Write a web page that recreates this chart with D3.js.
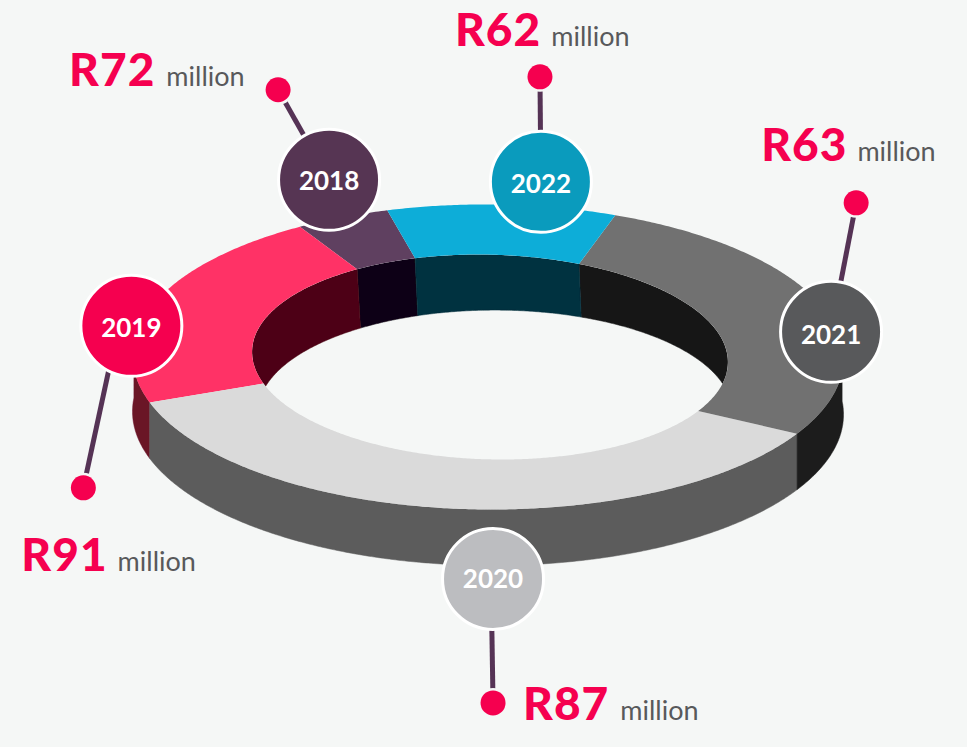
<!DOCTYPE html>
<html>
<head>
<meta charset="utf-8">
<script src="https://cdn.jsdelivr.net/npm/d3@7"></script>
<style>
  html, body { margin: 0; padding: 0; background: #f5f7f6; }
  svg { display: block; font-family: Lato, sans-serif; }
</style>
</head>
<body>
<div id="chart"></div>
<script>
const years = ['2018', '2019', '2020', '2021', '2022'];
const values = [72, 91, 87, 63, 62];
// share of the ring each slice takes in the picture (not proportional to values),
// read separately at the outer and inner edge because the ring is in perspective
const outerShare = [4.3, 21.1, 36.8, 27.4, 10.4];
const innerShare = [4.33, 20.53, 37, 26.94, 11.2];

const topColors = ['#5e4061', '#ff3366', '#dadada', '#717171', '#0fadd8'];
const outerWallColors = ['#3a2038', '#6b1428', '#5c5c5c', '#1d1d1d', '#01303f'];
const innerWallColors = ['#0d0414', '#4d0014', '#333333', '#181818', '#01303f'];
const bubbleColors = ['#563553', '#f5004f', '#bcbdc0', '#58595b', '#0a9bbd'];

// callouts: bubble is polar from ring centre, dot is polar from bubble
const bubbleAngle = [-41.9, -85, 178.7, 85.8, 16.8];
const bubbleDist = [238, 358, 222, 344, 183];
const leaderAngle = [-29.5, 196.5, 180, 11, -0.5];
const leaderLen = [103.5, 169, 124, 131.4, 105];
const leaderOffset = [0, -13, -2, 0, 0];
const labelDx = [-209, -62, 30, -95, -85];
const labelDy = [-4, 83, 17, -42, -31];
const labelGap = [11, 10, 11, 10, 10];
const yearDy = [1, 2, 0, 3, 2];

const width = 967;
const height = 747;
const cx = 488;
const cy = 357;
const rad = Math.PI / 180;

// ellipses the ring is built from
const outerTop = { cx: 488, cy: 357, r: 355.5, k: 0.429, tilt: 0.3 };
const outerBottom = { cx: 488, cy: 413, r: 355.5, k: 0.429, tilt: 0.3 };
const innerTop = { cx: 490, cy: 357, r: 238, k: 0.43, tilt: 1.5 };
const innerFloor = { cx: 495, cy: 412, r: 237, k: 0.43, tilt: 0 };

const svg = d3.select('#chart').append('svg')
  .attr('width', width)
  .attr('height', height);

svg.append('rect')
  .attr('width', width)
  .attr('height', height)
  .attr('fill', '#f5f7f6');

const defs = svg.append('defs');
defs.append('filter').attr('id', 'soft')
  .append('feGaussianBlur').attr('stdDeviation', 0.6);

function project(e, a) {
  const x = e.r * Math.sin(a);
  const y = -e.r * Math.cos(a) * e.k;
  const t = e.tilt * rad;
  return [
    e.cx + x * Math.cos(t) - y * Math.sin(t),
    e.cy + x * Math.sin(t) + y * Math.cos(t)
  ];
}

const outerPie = d3.pie().sort(null).startAngle(-16.6 * rad).endAngle(-376.6 * rad);
const innerPie = d3.pie().sort(null).startAngle(-19 * rad).endAngle(-379 * rad);
const outerSlices = outerPie(outerShare);
const innerSlices = innerPie(innerShare);

const line = d3.line();

function anglesOf(d) {
  const lo = Math.min(d.startAngle, d.endAngle);
  const hi = Math.max(d.startAngle, d.endAngle);
  return d3.range(lo, hi, 0.5 * rad).concat([hi]);
}

function wallPath(d, upper, lower, visible) {
  const angles = anglesOf(d).filter(visible);
  if (angles.length < 2) return null;
  const top = angles.map(a => project(upper, a));
  const bottom = angles.slice().reverse().map(a => project(lower, a));
  return line(top.concat(bottom)) + 'Z';
}

function slicePath(i) {
  const top = anglesOf(outerSlices[i]).map(a => project(outerTop, a));
  const bottom = anglesOf(innerSlices[i]).reverse().map(a => project(innerTop, a));
  return line(top.concat(bottom)) + 'Z';
}

defs.append('clipPath').attr('id', 'hole')
  .append('path')
  .attr('d', line(d3.range(0, 360, 1).map(a => project(innerTop, a * rad))) + 'Z');

const ring = svg.append('g').attr('filter', 'url(#soft)');

ring.append('g')
  .selectAll('path')
  .data(outerSlices)
  .enter().append('path')
  .attr('d', d => wallPath(d, outerTop, outerBottom, a => Math.cos(a) < 0.09))
  .attr('fill', (d, i) => outerWallColors[i])
  .attr('stroke', (d, i) => outerWallColors[i])
  .attr('stroke-width', 0.5);

ring.append('g')
  .attr('clip-path', 'url(#hole)')
  .selectAll('path')
  .data(innerSlices)
  .enter().append('path')
  .attr('d', d => wallPath(d, innerTop, innerFloor, a => Math.cos(a) > -0.09))
  .attr('fill', (d, i) => innerWallColors[i])
  .attr('stroke', (d, i) => innerWallColors[i])
  .attr('stroke-width', 0.5);

ring.append('g')
  .selectAll('path')
  .data(years)
  .enter().append('path')
  .attr('d', (d, i) => slicePath(i))
  .attr('fill', (d, i) => topColors[i]);

// callouts
const callouts = years.map((year, i) => {
  const b = d3.pointRadial(bubbleAngle[i] * rad, bubbleDist[i]);
  const bx = cx + b[0];
  const by = cy + b[1];
  const l = d3.pointRadial(leaderAngle[i] * rad, leaderLen[i]);
  return { year, value: values[i], i, bx, by, dx: bx + l[0], dy: by + l[1] };
});

const group = svg.append('g')
  .selectAll('g')
  .data(callouts)
  .enter().append('g');

group.append('line')
  .attr('x1', d => d.bx + leaderOffset[d.i])
  .attr('y1', d => d.by)
  .attr('x2', d => d.dx)
  .attr('y2', d => d.dy)
  .attr('stroke', '#553355')
  .attr('stroke-width', 5);

// gap between leader and dot
group.append('circle')
  .attr('cx', d => d.dx)
  .attr('cy', d => d.dy)
  .attr('r', 15)
  .attr('fill', '#f5f7f6');

group.append('circle')
  .attr('cx', d => d.dx)
  .attr('cy', d => d.dy)
  .attr('r', 12.5)
  .attr('fill', '#f5004f');

group.append('circle')
  .attr('cx', d => d.bx)
  .attr('cy', d => d.by)
  .attr('r', 50.5)
  .attr('fill', d => bubbleColors[d.i])
  .attr('stroke', '#ffffff')
  .attr('stroke-width', 3);

group.append('text')
  .attr('x', d => d.bx)
  .attr('y', d => d.by + yearDy[d.i])
  .attr('dy', '.35em')
  .attr('text-anchor', 'middle')
  .attr('fill', '#ffffff')
  .style('font-size', '26px')
  .style('font-weight', 700)
  .text(d => d.year);

const label = group.append('text')
  .attr('x', d => d.dx + labelDx[d.i])
  .attr('y', d => d.dy + labelDy[d.i]);

label.append('tspan')
  .attr('fill', '#f5004f')
  .style('font-size', '46px')
  .style('font-weight', 900)
  .style('letter-spacing', '1px')
  .text(d => `R${d.value}`);

label.append('tspan')
  .attr('dx', d => labelGap[d.i])
  .attr('fill', '#58595b')
  .style('font-size', '27px')
  .style('font-weight', 400)
  .text('million');
</script>
</body>
</html>
